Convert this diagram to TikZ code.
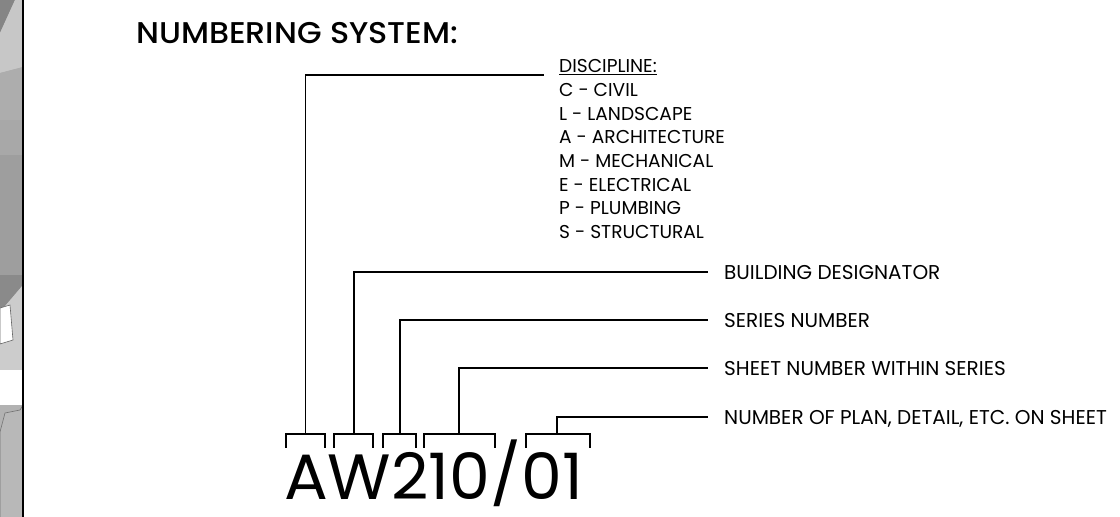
\documentclass[tikz,border=0pt]{standalone}
\usepackage{fontspec}
\setmainfont{Poppins}
\IfFontExistsTF{Poppins Medium}{\newfontfamily\ttlfont{Poppins Medium}}{\newfontfamily\ttlfont{Poppins}}
\begin{document}
\begin{tikzpicture}[x=1pt,y=-1pt,
  conn/.style={line width=1.6pt,line cap=rect},
  lbl/.style={inner sep=0pt,anchor=base west,font=\fontsize{20}{20}\selectfont,text height=14pt,text depth=0pt},
  dlist/.style={inner sep=0pt,anchor=base west,font=\fontsize{18.6}{18.6}\selectfont},
  ttl/.style={inner sep=0pt,anchor=base west,font=\ttlfont\fontsize{30}{30}\selectfont},
  big/.style={inner sep=0pt,anchor=base west,font=\fontsize{64}{64}\selectfont}]
\useasboundingbox (0,0) rectangle (1120,517);
\fill[white] (0,0) rectangle (1120,517);
% left strip
\fill[black!30] (0,0) rectangle (23,517);
\fill[black!48] (0,0) -- (15,0) -- (0,33) -- cycle;
\fill[black!22] (15,0) -- (23,0) -- (23,67) -- (0,73) -- (0,33) -- cycle;
\fill[black!32] (0,73) -- (23,67) -- (23,120) -- (0,120) -- cycle;
\fill[black!34] (0,120) rectangle (23,155);
\fill[black!38] (0,155) rectangle (23,275);
\fill[black!46] (0,275) -- (23,275) -- (23,285) -- (0,312) -- cycle;
\fill[black!20] (0,312) -- (23,285) -- (23,370) -- (0,370) -- cycle;
\fill[white,draw=black!60,line width=0.6pt] (0,308) -- (10,305) -- (13,340) -- (0,344) -- cycle;
\fill[white] (0,370) rectangle (23,405);
\fill[black!28,draw=black!55,line width=0.6pt] (0,517) -- (0,432) -- (5,413) -- (20,410) -- (23,405) -- (23,517);
\draw[line width=1.5pt] (23,0) -- (23,517);
% title
\node[ttl] (title) at (136,43) {\scalebox{1.06}[1]{NUMBERING SYSTEM:}};
% discipline list
\node[dlist] (d0) at (559,72) {DISCIPLINE:};
\draw[line width=1.2pt] ([yshift=-2.5pt]d0.base west) -- ([yshift=-2.5pt]d0.base east);
\node[dlist] (d1) at (559,96.6) {C - CIVIL};
\node[dlist] (d2) at (559,120.2) {L - LANDSCAPE};
\node[dlist] (d3) at (559,143.8) {A - ARCHITECTURE};
\node[dlist] (d4) at (559,167.4) {M - MECHANICAL};
\node[dlist] (d5) at (559,191) {E - ELECTRICAL};
\node[dlist] (d6) at (559,214.6) {P - PLUMBING};
\node[dlist] (d7) at (559,238.2) {S - STRUCTURAL};
% labels
\node[lbl] (l2) at (724,279) {BUILDING DESIGNATOR};
\node[lbl] (l3) at (724,327) {SERIES NUMBER};
\node[lbl] (l4) at (724,375) {SHEET NUMBER WITHIN SERIES};
\node[lbl] (l5) at (724,424) {NUMBER OF PLAN, DETAIL, ETC. ON SHEET};
% big text
\node[big] (code) at (284,499) {\scalebox{1.015}[1]{AW210\raisebox{3pt}{\scalebox{1}[0.94]{/}}01}};
% brackets
\coordinate (b1) at (305.5,434);
\coordinate (b2) at (354,434);
\coordinate (b3) at (400,434);
\coordinate (b4) at (459,434);
\coordinate (b5) at (557,434);
\draw[conn] (286,447) -- (286,434) -- (325,434) -- (325,447);
\draw[conn] (334,447) -- (334,434) -- (373,434) -- (373,447);
\draw[conn] (383,447) -- (383,434) -- (416,434) -- (416,447);
\draw[conn] (424,447) -- (424,434) -- (495,434) -- (495,447);
\draw[conn] (526,447) -- (526,434) -- (590,434) -- (590,447);
% connectors
\coordinate (c1) at (543,75);
\draw[conn] (c1) -| (b1);
\draw[conn] ([xshift=-17pt]l2.west) -| (b2);
\draw[conn] ([xshift=-17pt]l3.west) -| (b3);
\draw[conn] ([xshift=-17pt]l4.west) -| (b4);
\draw[conn] ([xshift=-17pt]l5.west) -| (b5);
\end{tikzpicture}
\end{document}
